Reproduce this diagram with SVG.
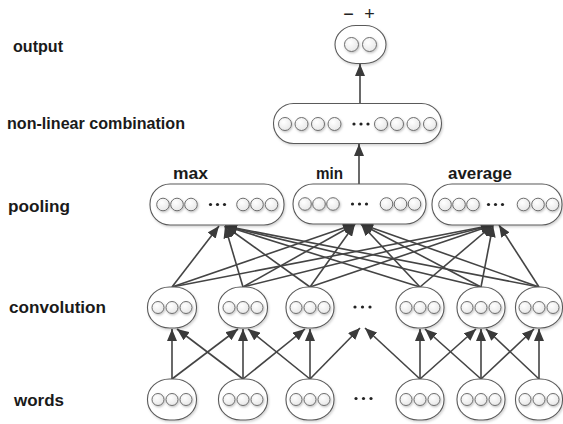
<svg xmlns="http://www.w3.org/2000/svg" width="563" height="424" viewBox="0 0 563 424">
<style>
.lbl{font-family:"Liberation Sans",Arial,sans-serif;font-weight:bold;font-size:16px;fill:#1a1a1a}
.sgn{font-family:"Liberation Sans",Arial,sans-serif;font-size:18px;fill:#222;text-anchor:middle}
.node{fill:#fff;stroke:#5a5a5a;stroke-width:1.1;filter:url(#sh)}
.c{fill:url(#cg);stroke:#6e6e6e;stroke-width:1;filter:url(#sh2)}
.d{fill:#222}
.e{stroke:#444;stroke-width:1.6;fill:none;marker-end:url(#ah)}
</style>
<defs>
<marker id="ah" markerUnits="userSpaceOnUse" markerWidth="12" markerHeight="10" refX="12" refY="5" orient="auto">
<path d="M0,0 L12,5 L0,10 z" fill="#3a3a3a"/>
</marker>
<radialGradient id="cg" cx="0.4" cy="0.35" r="0.7">
<stop offset="0" stop-color="#ffffff"/>
<stop offset="1" stop-color="#e6e6e6"/>
</radialGradient>
<filter id="sh" x="-20%" y="-20%" width="140%" height="150%">
<feDropShadow dx="1" dy="1.5" stdDeviation="1" flood-color="#000" flood-opacity="0.18"/>
</filter>
<filter id="sh2" x="-40%" y="-40%" width="190%" height="190%">
<feDropShadow dx="0.8" dy="1.2" stdDeviation="0.8" flood-color="#000" flood-opacity="0.25"/>
</filter>
</defs>

<g id="labels">
<text class="lbl" x="13" y="52" textLength="50" lengthAdjust="spacingAndGlyphs">output</text>
<text class="lbl" x="7" y="129" textLength="178" lengthAdjust="spacingAndGlyphs">non-linear combination</text>
<text class="lbl" x="8" y="212" textLength="62" lengthAdjust="spacingAndGlyphs">pooling</text>
<text class="lbl" x="9" y="313" textLength="97" lengthAdjust="spacingAndGlyphs">convolution</text>
<text class="lbl" x="14" y="406" textLength="50" lengthAdjust="spacingAndGlyphs">words</text>
<text class="lbl" x="173" y="179" textLength="35" lengthAdjust="spacingAndGlyphs">max</text>
<text class="lbl" x="316" y="179" textLength="27" lengthAdjust="spacingAndGlyphs">min</text>
<text class="lbl" x="448" y="179" textLength="64" lengthAdjust="spacingAndGlyphs">average</text>
<text class="sgn" x="348.5" y="20">−</text>
<text class="sgn" x="369.5" y="20">+</text>
</g>

<g id="connectors">
<line class="e" x1="360" y1="103" x2="360" y2="64"/>
<line class="e" x1="359" y1="184" x2="359" y2="144"/>
<line class="e" x1="172" y1="287" x2="219" y2="226"/>
<line class="e" x1="243" y1="287" x2="225" y2="226"/>
<line class="e" x1="310" y1="287" x2="225" y2="226"/>
<line class="e" x1="420" y1="287" x2="225" y2="226"/>
<line class="e" x1="481" y1="287" x2="225" y2="226"/>
<line class="e" x1="539" y1="287" x2="225" y2="226"/>
<line class="e" x1="172" y1="287" x2="355" y2="224"/>
<line class="e" x1="243" y1="287" x2="355" y2="224"/>
<line class="e" x1="310" y1="287" x2="355" y2="224"/>
<line class="e" x1="420" y1="287" x2="361" y2="224"/>
<line class="e" x1="481" y1="287" x2="361" y2="224"/>
<line class="e" x1="539" y1="287" x2="361" y2="224"/>
<line class="e" x1="172" y1="287" x2="493" y2="225"/>
<line class="e" x1="243" y1="287" x2="493" y2="225"/>
<line class="e" x1="310" y1="287" x2="493" y2="225"/>
<line class="e" x1="420" y1="287" x2="493" y2="225"/>
<line class="e" x1="481" y1="287" x2="493" y2="225"/>
<line class="e" x1="539" y1="287" x2="499" y2="225"/>
<line class="e" x1="172" y1="379" x2="172" y2="329"/>
<line class="e" x1="172" y1="379" x2="238" y2="329"/>
<line class="e" x1="243" y1="379" x2="177" y2="329"/>
<line class="e" x1="243" y1="379" x2="243" y2="329"/>
<line class="e" x1="243" y1="379" x2="305" y2="329"/>
<line class="e" x1="310" y1="379" x2="248" y2="329"/>
<line class="e" x1="310" y1="379" x2="310" y2="329"/>
<line class="e" x1="310" y1="379" x2="360" y2="328"/>
<line class="e" x1="420" y1="379" x2="365" y2="328"/>
<line class="e" x1="420" y1="379" x2="420" y2="329"/>
<line class="e" x1="420" y1="379" x2="476" y2="329"/>
<line class="e" x1="481" y1="379" x2="425" y2="329"/>
<line class="e" x1="481" y1="379" x2="481" y2="329"/>
<line class="e" x1="481" y1="379" x2="534" y2="329"/>
<line class="e" x1="539" y1="379" x2="486" y2="329"/>
<line class="e" x1="539" y1="379" x2="539" y2="329"/>
</g>

<g id="output">
<rect class="node" x="335" y="25.5" width="51" height="38" rx="21" ry="19"/>
<circle class="c" cx="351.5" cy="44.5" r="7"/>
<circle class="c" cx="369.5" cy="44.5" r="7"/>
</g>

<g id="nonlinear">
<rect class="node" x="273.5" y="103.5" width="168" height="40" rx="20" ry="20"/>
<circle class="c" cx="285" cy="124" r="6.5"/>
<circle class="c" cx="301.5" cy="124" r="6.5"/>
<circle class="c" cx="318" cy="124" r="6.5"/>
<circle class="c" cx="334.5" cy="124" r="6.5"/>
<circle class="d" cx="354" cy="124" r="1.6"/>
<circle class="d" cx="361" cy="124" r="1.6"/>
<circle class="d" cx="368" cy="124" r="1.6"/>
<circle class="c" cx="381" cy="124" r="6.5"/>
<circle class="c" cx="397" cy="124" r="6.5"/>
<circle class="c" cx="413.5" cy="124" r="6.5"/>
<circle class="c" cx="430" cy="124" r="6.5"/>
</g>

<g id="pool-max">
<rect class="node" x="150" y="184" width="134" height="41" rx="20" ry="20"/>
<circle class="c" cx="163" cy="204.5" r="6.3"/>
<circle class="c" cx="177" cy="204.5" r="6.3"/>
<circle class="c" cx="191" cy="204.5" r="6.3"/>
<circle class="d" cx="210.5" cy="204.5" r="1.6"/>
<circle class="d" cx="217.5" cy="204.5" r="1.6"/>
<circle class="d" cx="224.5" cy="204.5" r="1.6"/>
<circle class="c" cx="243" cy="204.5" r="6.3"/>
<circle class="c" cx="257" cy="204.5" r="6.3"/>
<circle class="c" cx="271.5" cy="204.5" r="6.3"/>
</g>

<g id="pool-min">
<rect class="node" x="293" y="184" width="133" height="40" rx="20" ry="20"/>
<circle class="c" cx="305" cy="204" r="6.3"/>
<circle class="c" cx="319" cy="204" r="6.3"/>
<circle class="c" cx="333" cy="204" r="6.3"/>
<circle class="d" cx="352.5" cy="204" r="1.6"/>
<circle class="d" cx="359.5" cy="204" r="1.6"/>
<circle class="d" cx="366.5" cy="204" r="1.6"/>
<circle class="c" cx="386.5" cy="204" r="6.3"/>
<circle class="c" cx="400.5" cy="204" r="6.3"/>
<circle class="c" cx="414.5" cy="204" r="6.3"/>
</g>

<g id="pool-average">
<rect class="node" x="432" y="184" width="130" height="41" rx="20" ry="20"/>
<circle class="c" cx="445" cy="204.5" r="6.3"/>
<circle class="c" cx="459" cy="204.5" r="6.3"/>
<circle class="c" cx="473" cy="204.5" r="6.3"/>
<circle class="d" cx="488.5" cy="204.5" r="1.6"/>
<circle class="d" cx="495.5" cy="204.5" r="1.6"/>
<circle class="d" cx="502.5" cy="204.5" r="1.6"/>
<circle class="c" cx="523.5" cy="204.5" r="6.3"/>
<circle class="c" cx="538" cy="204.5" r="6.3"/>
<circle class="c" cx="552.5" cy="204.5" r="6.3"/>
</g>

<g id="conv1"><rect class="node" x="147.5" y="287" width="49" height="41" rx="22" ry="20"/><circle class="c" cx="158" cy="307.5" r="6"/><circle class="c" cx="172" cy="307.5" r="6"/><circle class="c" cx="186" cy="307.5" r="6"/></g>
<g id="conv2"><rect class="node" x="218.5" y="287" width="49" height="41" rx="22" ry="20"/><circle class="c" cx="229" cy="307.5" r="6"/><circle class="c" cx="243" cy="307.5" r="6"/><circle class="c" cx="257" cy="307.5" r="6"/></g>
<g id="conv3"><rect class="node" x="286" y="287" width="48" height="41" rx="22" ry="20"/><circle class="c" cx="296" cy="307.5" r="6"/><circle class="c" cx="310" cy="307.5" r="6"/><circle class="c" cx="324" cy="307.5" r="6"/></g>
<g id="conv-dots"><circle class="d" cx="355" cy="307" r="1.6"/><circle class="d" cx="362.5" cy="307" r="1.6"/><circle class="d" cx="370" cy="307" r="1.6"/></g>
<g id="conv4"><rect class="node" x="396" y="287" width="48" height="41" rx="22" ry="20"/><circle class="c" cx="406" cy="307.5" r="6"/><circle class="c" cx="420" cy="307.5" r="6"/><circle class="c" cx="434" cy="307.5" r="6"/></g>
<g id="conv5"><rect class="node" x="457" y="287" width="48" height="41" rx="22" ry="20"/><circle class="c" cx="467" cy="307.5" r="6"/><circle class="c" cx="481" cy="307.5" r="6"/><circle class="c" cx="495" cy="307.5" r="6"/></g>
<g id="conv6"><rect class="node" x="515.5" y="287" width="47" height="41" rx="22" ry="20"/><circle class="c" cx="525" cy="307.5" r="6"/><circle class="c" cx="539" cy="307.5" r="6"/><circle class="c" cx="553" cy="307.5" r="6"/></g>

<g id="word1"><rect class="node" x="147.5" y="379" width="49" height="41" rx="22" ry="20"/><circle class="c" cx="158" cy="399.5" r="6"/><circle class="c" cx="172" cy="399.5" r="6"/><circle class="c" cx="186" cy="399.5" r="6"/></g>
<g id="word2"><rect class="node" x="218.5" y="379" width="49" height="41" rx="22" ry="20"/><circle class="c" cx="229" cy="399.5" r="6"/><circle class="c" cx="243" cy="399.5" r="6"/><circle class="c" cx="257" cy="399.5" r="6"/></g>
<g id="word3"><rect class="node" x="286" y="379" width="48" height="41" rx="22" ry="20"/><circle class="c" cx="296" cy="399.5" r="6"/><circle class="c" cx="310" cy="399.5" r="6"/><circle class="c" cx="324" cy="399.5" r="6"/></g>
<g id="word-dots"><circle class="d" cx="356" cy="398.5" r="1.6"/><circle class="d" cx="363.5" cy="398.5" r="1.6"/><circle class="d" cx="371" cy="398.5" r="1.6"/></g>
<g id="word4"><rect class="node" x="396" y="379" width="48" height="41" rx="22" ry="20"/><circle class="c" cx="406" cy="399.5" r="6"/><circle class="c" cx="420" cy="399.5" r="6"/><circle class="c" cx="434" cy="399.5" r="6"/></g>
<g id="word5"><rect class="node" x="457" y="379" width="48" height="41" rx="22" ry="20"/><circle class="c" cx="467" cy="399.5" r="6"/><circle class="c" cx="481" cy="399.5" r="6"/><circle class="c" cx="495" cy="399.5" r="6"/></g>
<g id="word6"><rect class="node" x="515.5" y="379" width="47" height="41" rx="22" ry="20"/><circle class="c" cx="525" cy="399.5" r="6"/><circle class="c" cx="539" cy="399.5" r="6"/><circle class="c" cx="553" cy="399.5" r="6"/></g>
</svg>
